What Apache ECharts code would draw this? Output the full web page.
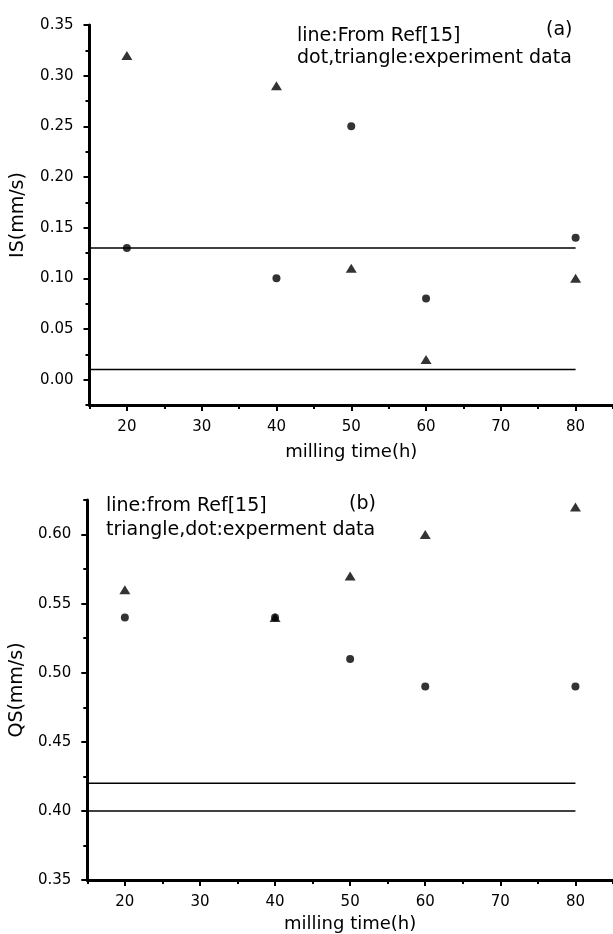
<!DOCTYPE html>
<html><head><meta charset="utf-8">
<script src="https://cdn.jsdelivr.net/npm/echarts@6/dist/echarts.min.js"></script>
<style>html,body{margin:0;padding:0;background:#fff}#c{width:613px;height:934px}</style>
</head><body><div id="c"></div>
<script>
// ---- data ----
const times = [20, 40, 50, 60, 80];
const trianglesA = [0.32, 0.29, 0.11, 0.02, 0.10];
const dotsA = [0.13, 0.10, 0.25, 0.08, 0.14];
const refLinesA = [0.13, 0.01];
const trianglesB = [0.56, 0.54, 0.57, 0.60, 0.62];
const dotsB = [0.54, 0.54, 0.51, 0.49, 0.49];
const refLinesB = [0.42, 0.40];
const refLineX = [15, 80];
const xMajor = [20, 30, 40, 50, 60, 70, 80];
const xMinor = [15, 25, 35, 45, 55, 65, 75, 85];
const yMajorA = [0.00, 0.05, 0.10, 0.15, 0.20, 0.25, 0.30, 0.35];
const yMinorA = [-0.025, 0.025, 0.075, 0.125, 0.175, 0.225, 0.275, 0.325];
const yMajorB = [0.35, 0.40, 0.45, 0.50, 0.55, 0.60];
const yMinorB = [0.375, 0.425, 0.475, 0.525, 0.575, 0.625];

const FONT = '"DejaVu Sans", Verdana, sans-serif';
const chart = echarts.init(document.getElementById('c'), null, {renderer: 'canvas'});

function pairs(xs, ys) { return xs.map((x, i) => [x, ys[i]]); }

const grids = [
  {left: 89.5, top: 25, width: 528.5, height: 380},
  {left: 86, top: 500, width: 528.5, height: 380}
];

function xAxes(gi, nameGap) {
  return [
    {gridIndex: gi, type: 'value', min: 15, max: 85, position: 'bottom',
     name: 'milling time(h)', nameLocation: 'middle', nameGap: nameGap,
     nameTextStyle: {fontFamily: FONT, fontSize: 18, color: '#000'},
     axisLine: {show: true, onZero: false, lineStyle: {color: '#000', width: 3}},
     axisTick: {show: true, customValues: xMajor, length: 6, lineStyle: {color: '#000', width: 2}},
     axisLabel: {show: true, customValues: xMajor, formatter: v => String(v), margin: 15,
       fontFamily: FONT, fontSize: 15, color: '#000'},
     splitLine: {show: false}},
    {gridIndex: gi, type: 'value', min: 15, max: 85, position: 'bottom',
     axisLine: {show: false, onZero: false},
     axisTick: {show: true, customValues: xMinor, length: 4, lineStyle: {color: '#000', width: 2}},
     axisLabel: {show: false}, splitLine: {show: false}}
  ];
}
function yAxes(gi, min, max, major, minor, name, nameGap) {
  return [
    {gridIndex: gi, type: 'value', min: min, max: max, position: 'left',
     name: name, nameLocation: 'middle', nameGap: nameGap, nameRotate: 90,
     nameTextStyle: {fontFamily: FONT, fontSize: 19, color: '#000'},
     axisLine: {show: true, onZero: false, lineStyle: {color: '#000', width: 3}},
     axisTick: {show: true, customValues: major, length: 6, lineStyle: {color: '#000', width: 2}},
     axisLabel: {show: true, customValues: major, formatter: v => v.toFixed(2), margin: 16,
       fontFamily: FONT, fontSize: 15, color: '#000'},
     splitLine: {show: false}},
    {gridIndex: gi, type: 'value', min: min, max: max, position: 'left',
     axisLine: {show: false, onZero: false},
     axisTick: {show: true, customValues: minor, length: 4, lineStyle: {color: '#000', width: 2}},
     axisLabel: {show: false}, splitLine: {show: false}}
  ];
}

const series = [];
function addPanel(gi, tri, dots, lines) {
  const xi = gi * 2, yi = gi * 2;
  lines.forEach(v => series.push({type: 'line', xAxisIndex: xi, yAxisIndex: yi,
    data: refLineX.map(x => [x, v]), symbol: 'none', silent: true,
    lineStyle: {color: '#000', width: 1.5}}));
  series.push({type: 'scatter', xAxisIndex: xi, yAxisIndex: yi, data: pairs(times, tri),
    symbol: 'triangle', symbolSize: [11, 9], itemStyle: {color: '#000'}});
  series.push({type: 'scatter', xAxisIndex: xi, yAxisIndex: yi, data: pairs(times, dots),
    symbol: 'circle', symbolSize: 8, itemStyle: {color: '#000'}});
}
addPanel(0, trianglesA, dotsA, refLinesA);
addPanel(1, trianglesB, dotsB, refLinesB);

const txt = (x, y, s) => ({type: 'text', left: x, top: y,
  style: {text: s, fontFamily: FONT, fontSize: 19, fill: '#000'}});

chart.setOption({
  animation: false,
  grid: grids,
  xAxis: [...xAxes(0, 38), ...xAxes(1, 35)],
  yAxis: [...yAxes(0, -0.025, 0.35, yMajorA, yMinorA, 'IS(mm/s)', 62),
          ...yAxes(1, 0.35, 0.625, yMajorB, yMinorB, 'QS(mm/s)', 58)],
  series: series,
  graphic: [
    txt(297, 27, 'line:From Ref[15]'),
    txt(546, 21, '(a)'),
    txt(297, 49, 'dot,triangle:experiment data'),
    txt(106, 497, 'line:from Ref[15]'),
    txt(349, 495, '(b)'),
    txt(106, 521, 'triangle,dot:experment data')
  ]
});
</script></body></html>
